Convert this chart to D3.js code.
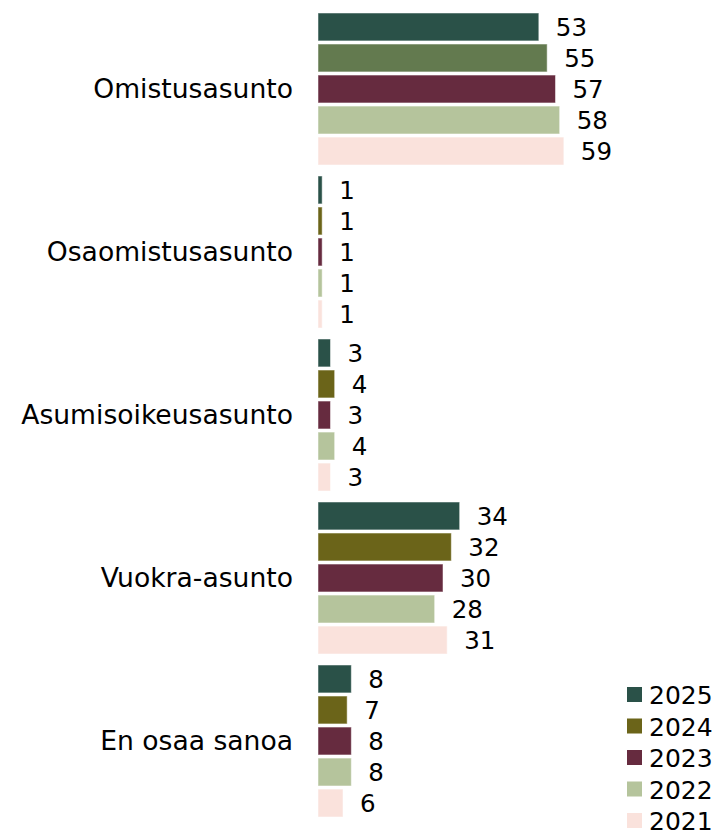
<!DOCTYPE html>
<html>
<head>
<meta charset="utf-8">
<script src="https://cdn.jsdelivr.net/npm/d3@7"></script>
<style>
  body { margin: 0; background: #fff; }
  svg text { font-family: "DejaVu Sans", Verdana, sans-serif; fill: #000; }
</style>
</head>
<body>
<svg id="chart"></svg>
<script>
// data
const categories = ["Omistusasunto", "Osaomistusasunto", "Asumisoikeusasunto", "Vuokra-asunto", "En osaa sanoa"];
const years = ["2025", "2024", "2023", "2022", "2021"];
const v2025 = [53, 1, 3, 34, 8];
const v2024 = [55, 1, 4, 32, 7];
const v2023 = [57, 1, 3, 30, 8];
const v2022 = [58, 1, 4, 28, 8];
const v2021 = [59, 1, 3, 31, 6];

const series = [v2025, v2024, v2023, v2022, v2021];
const colors = ["#2a5148", "#6b6419", "#662b3f", "#b5c49c", "#fae2dc"];
// first group's 2024 bar is drawn in a different green in the original
const odd2024 = "#637a4f";

const width = 720, height = 832;
const svg = d3.select('#chart')
    .attr('width', width)
    .attr('height', height);

const yScale = d3.scaleBand()
    .domain(categories)
    .range([13, 817])
    .paddingInner(0.0675)
    .paddingOuter(0);

const ySub = d3.scaleBand()
    .domain(years)
    .range([0, yScale.bandwidth()])
    .paddingInner(0.1);

const xScale = d3.scaleLinear()
    .domain([0, 60])
    .range([318, 568]);

const rows = [];
categories.forEach((c, i) => {
    years.forEach((y, j) => {
        rows.push({ cat: c, year: y, value: series[j][i], ci: i, yi: j });
    });
});

const groups = svg.append('g');

groups.selectAll('.bar')
    .data(rows)
    .join('rect')
    .attr('class', 'bar')
    .attr('x', xScale(0))
    .attr('y', d => yScale(d.cat) + ySub(d.year))
    .attr('width', d => xScale(d.value) - xScale(0))
    .attr('height', ySub.bandwidth())
    .attr('fill', d => (d.ci === 0 && d.yi === 1) ? odd2024 : colors[d.yi])
    .attr('stroke', '#fff')
    .attr('stroke-opacity', 0.5)
    .attr('stroke-width', 1);

groups.selectAll('.val')
    .data(rows)
    .join('text')
    .attr('class', 'val')
    .attr('x', d => xScale(d.value) + 17)
    .attr('y', d => yScale(d.cat) + ySub(d.year) + ySub.bandwidth() / 2)
    .attr('dy', '0.38em')
    .attr('font-size', 24.5)
    .text(d => d.value);

// category labels
const yAxis = d3.axisLeft(yScale).tickSize(0).tickPadding(0);
const yAxisG = svg.append('g')
    .attr('transform', `translate(293,0)`)
    .call(yAxis);
yAxisG.select('.domain').remove();
yAxisG.selectAll('.tick text')
    .attr('font-size', 26.6)
    .attr('font-family', '"DejaVu Sans", Verdana, sans-serif')
    .attr('fill', '#000');

// legend
const legend = svg.append('g')
    .attr('transform', 'translate(627,695)');
const items = legend.selectAll('.item')
    .data(years)
    .join('g')
    .attr('class', 'item')
    .attr('transform', (d, i) => `translate(0,${i * 31.5})`);
items.append('rect')
    .attr('x', 0)
    .attr('y', -8)
    .attr('width', 15)
    .attr('height', 15)
    .attr('fill', (d, i) => colors[i]);
items.append('text')
    .attr('x', 22)
    .attr('y', 0)
    .attr('dy', '0.36em')
    .attr('font-size', 25)
    .text(d => d);
</script>
</body>
</html>
